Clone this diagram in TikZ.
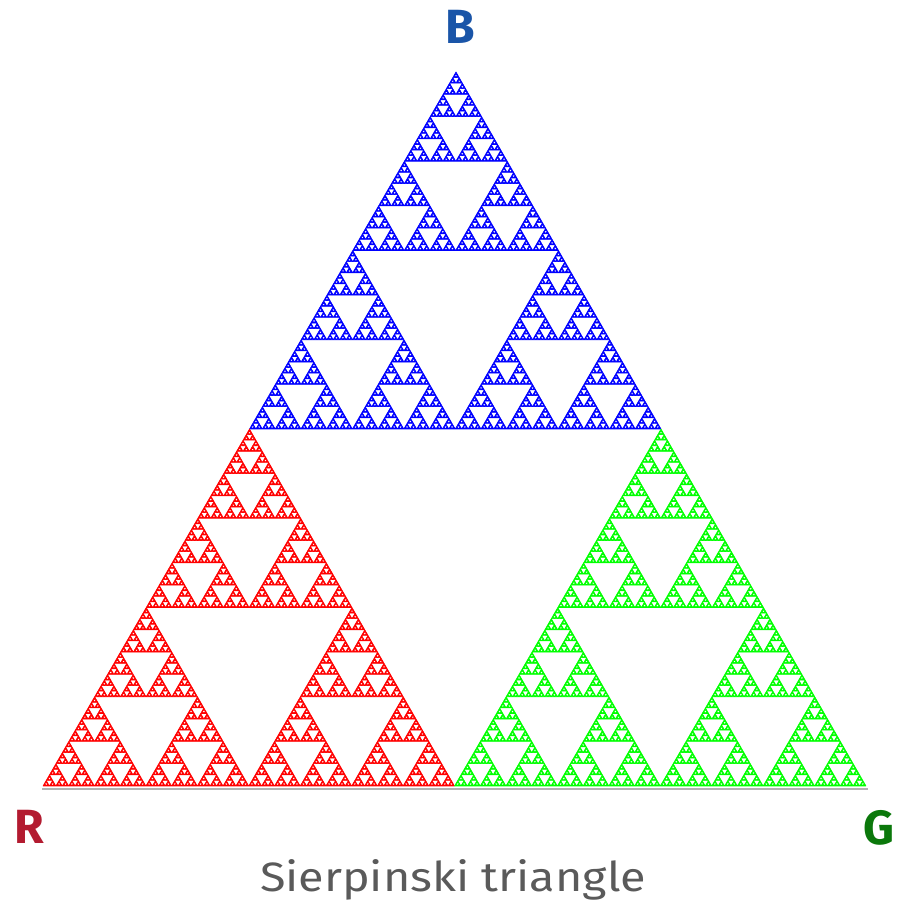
\documentclass[tikz,border=0pt]{standalone}
\usepackage{fontspec}
\setmainfont{Fira Sans}
\definecolor{labB}{HTML}{1A55A8}
\definecolor{labR}{HTML}{B31B30}
\definecolor{labG}{HTML}{0B780B}
\definecolor{titlegray}{HTML}{5A5A5A}
\def\sierp#1#2#3#4#5#6#7{%
 \ifnum#1=0
  \pgfpathmoveto{\pgfqpoint{#2}{#3}}%
  \pgfpathlineto{\pgfqpoint{#4}{#5}}%
  \pgfpathlineto{\pgfqpoint{#6}{#7}}%
  \pgfpathclose
 \else
  \edef\sierpnext{\noexpand\sierp{\the\numexpr#1-1\relax}{#2}{#3}%
    {\the\dimexpr(#2+#4)/2\relax}{\the\dimexpr(#3+#5)/2\relax}%
    {\the\dimexpr(#2+#6)/2\relax}{\the\dimexpr(#3+#7)/2\relax}}\sierpnext
  \edef\sierpnext{\noexpand\sierp{\the\numexpr#1-1\relax}%
    {\the\dimexpr(#2+#4)/2\relax}{\the\dimexpr(#3+#5)/2\relax}%
    {#4}{#5}%
    {\the\dimexpr(#4+#6)/2\relax}{\the\dimexpr(#5+#7)/2\relax}}\sierpnext
  \edef\sierpnext{\noexpand\sierp{\the\numexpr#1-1\relax}%
    {\the\dimexpr(#2+#6)/2\relax}{\the\dimexpr(#3+#7)/2\relax}%
    {\the\dimexpr(#4+#6)/2\relax}{\the\dimexpr(#5+#7)/2\relax}%
    {#6}{#7}}\sierpnext
 \fi}
\tikzset{
  vlabel/.style={font=\fontsize{48}{50}\selectfont\bfseries, inner sep=0pt},
}
\begin{document}
\begin{tikzpicture}[x=1pt,y=1pt]
\useasboundingbox (0,0) rectangle (897,913);
\pgfsetlinewidth{0.55pt}
\pgfsetroundjoin
% blue (top)
\begin{pgfscope}
\pgfsetfillcolor{blue}\pgfsetstrokecolor{blue}
\sierp{7}{249.5pt}{484pt}{661pt}{484pt}{456pt}{841pt}
\pgfusepath{fill,stroke}
\end{pgfscope}
% red (left)
\begin{pgfscope}
\pgfsetfillcolor{red}\pgfsetstrokecolor{red}
\sierp{7}{43pt}{127pt}{454.5pt}{127pt}{249.5pt}{484pt}
\pgfusepath{fill,stroke}
\end{pgfscope}
% green (right)
\begin{pgfscope}
\pgfsetfillcolor{green}\pgfsetstrokecolor{green}
\sierp{7}{454.5pt}{127pt}{866pt}{127pt}{661pt}{484pt}
\pgfusepath{fill,stroke}
\end{pgfscope}
\coordinate (baseL) at (42,124);
\coordinate (baseR) at (868,124);
\draw[black!30, line width=1.5pt] (baseL) -- (baseR);
\node[vlabel, text=labB] (B) at (460,886) {B};
\node[vlabel, text=labR] (R) at (29,86) {R};
\node[vlabel, text=labG] (G) at (879,85) {G};
\node[font=\fontsize{41}{43}\selectfont, text=titlegray, anchor=base, inner sep=0pt, xscale=1.14] (title) at (453,21) {Sierpinski triangle};
\end{tikzpicture}
\end{document}
